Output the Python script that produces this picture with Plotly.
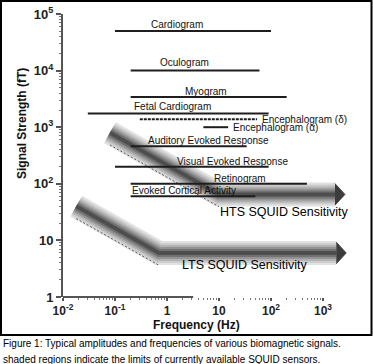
import numpy as np
import plotly.graph_objects as go

# ---------------- data ----------------
signals = ["Cardiogram", "Oculogram", "Myogram", "Fetal Cardiogram",
           "Encephalogram (δ)", "Encephalogram (α)", "Auditory Evoked Response",
           "Visual Evoked Response", "Retinogram", "Evoked Cortical Activity"]
f_low = [0.1, 0.2, 0.2, 0.03, 0.3, 5, 0.2, 0.1, 0.2, 0.2]          # Hz
f_high = [100, 60, 200, 90, 54, 15, 34, 90, 490, 50]                # Hz
amplitude = [5e4, 1e4, 3.4e3, 1.75e3, 1.38e3, 1.0e3, 460, 200, 100, 60]  # fT

hts_freq = [0.08, 10, 1700]     # Hz
hts_level = [800, 65, 65]       # fT
lts_freq = [0.018, 0.7, 1800]   # Hz
lts_level = [40, 6, 6]          # fT

x_tickvals = [0.01, 0.1, 1, 10, 100, 1000]
x_ticktext = ["10<sup>-2</sup>", "10<sup>-1</sup>", "1", "10", "10<sup>2</sup>", "10<sup>3</sup>"]
y_tickvals = [1, 10, 100, 1000, 1e4, 1e5]
y_ticktext = ["1", "10", "10<sup>2</sup>", "10<sup>3</sup>", "10<sup>4</sup>", "10<sup>5</sup>"]

# ---------------- layout geometry ----------------
W, H = 373, 364
L, R, T, B = 63, 348, 14, 297
PW, PH = R - L, B - T


def px(x):
    return (x - L) / PW


def py(y):
    return (B - y) / PH


FONT = "Liberation Sans, Arial, sans-serif"
LINE = "#1e1e1e"

fig = go.Figure()

# ---------------- sensitivity bands ----------------
layers = [(24, "#e2e2e2"), (20, "#cdcdcd"), (16, "#b2b2b2"),
          (12, "#939393"), (8, "#727272"), (4, "#4e4e4e")]
for freqs, levels in [(hts_freq, hts_level), (lts_freq, lts_level)]:
    for w, c in layers:
        fig.add_trace(go.Scatter(x=freqs, y=levels, mode="lines",
                                 line=dict(color=c, width=w),
                                 hoverinfo="skip", showlegend=False))
    # arrow head
    fe, le = freqs[-1], levels[-1]
    fig.add_trace(go.Scatter(x=[fe, fe * 1.55, fe], y=[le * 1.55, le, le / 1.55],
                             mode="lines", fill="toself", fillcolor="#3c3c3c",
                             line=dict(color="#3c3c3c", width=1),
                             hoverinfo="skip", showlegend=False))
    # dashed lower edge of the sloped part
    fig.add_trace(go.Scatter(x=freqs[:2], y=[v / 1.65 for v in levels[:2]], mode="lines",
                             line=dict(color="#555555", width=1, dash="2px,2px"),
                             hoverinfo="skip", showlegend=False))

# ---------------- signal ranges ----------------
label_x = [1.55, 2.2, 5.6, 1.25, None, None, 6.4, 18, 25, 2.1]
label_dy = [7, 8, 6, 7, 0, 0, 6, 5, 5, 6]
for i, name in enumerate(signals):
    dash = "3px,1px" if "δ" in name else "solid"
    fig.add_trace(go.Scatter(x=[f_low[i], f_high[i]], y=[amplitude[i]] * 2, mode="lines",
                             line=dict(color=LINE, width=2, dash=dash),
                             hoverinfo="skip", showlegend=False))
    if label_x[i] is None:
        fig.add_annotation(x=np.log10(f_high[i]), y=np.log10(amplitude[i]), text=name,
                           showarrow=False, xanchor="left", yanchor="middle", xshift=3,
                           font=dict(family=FONT, size=10, color="#111"))
    else:
        fig.add_annotation(x=np.log10(label_x[i]), y=np.log10(amplitude[i]), text=name,
                           showarrow=False, xanchor="center", yanchor="middle",
                           yshift=label_dy[i],
                           font=dict(family=FONT, size=10, color="#111"))

# band labels
fig.add_annotation(x=np.log10(178), y=np.log10(32), text="HTS SQUID Sensitivity",
                   showarrow=False, xanchor="center", yanchor="middle",
                   font=dict(family=FONT, size=12.5, color="#000"))
fig.add_annotation(x=np.log10(31), y=np.log10(3.7), text="LTS SQUID Sensitivity",
                   showarrow=False, xanchor="center", yanchor="middle",
                   font=dict(family=FONT, size=12.5, color="#000"))

# axis titles and caption
fig.add_annotation(xref="paper", yref="paper", x=px(22), y=py(124), text="<b>Signal Strength (fT)</b>",
                   textangle=-90, showarrow=False, xanchor="center", yanchor="middle",
                   font=dict(family=FONT, size=12, color="#111"))
fig.add_annotation(xref="paper", yref="paper", x=px(196), y=py(325), text="<b>Frequency (Hz)</b>",
                   showarrow=False, xanchor="center", yanchor="middle",
                   font=dict(family=FONT, size=12, color="#111"))
fig.add_annotation(xref="paper", yref="paper", x=px(1), y=py(343), xanchor="left", yanchor="middle",
                   text="Figure 1: Typical amplitudes and frequencies of various biomagnetic signals.",
                   showarrow=False, font=dict(family=FONT, size=10, color="#000"))
fig.add_annotation(xref="paper", yref="paper", x=px(1), y=py(359), xanchor="left", yanchor="middle",
                   text="shaded regions indicate the limits of currently available SQUID sensors.",
                   showarrow=False, font=dict(family=FONT, size=10, color="#000"))

# frame and x axis line
fig.add_shape(type="rect", xref="paper", yref="paper", x0=px(1), x1=px(371.5), y0=py(335), y1=py(1),
              line=dict(color="#000", width=2))
fig.add_shape(type="line", xref="x", yref="paper", x0=-2, x1=3.19, y0=0, y1=0,
              line=dict(color="#555", width=2))

minor_x = [k * 10.0 ** n for n in range(-2, 3) for k in range(2, 10)]
minor_y = [k * 10.0 ** n for n in range(0, 5) for k in range(2, 10)]

fig.update_xaxes(type="log", range=[-2, (R - L) / 52 - 2], showgrid=False, zeroline=False,
                 showline=False, automargin=False, tickmode="array", tickvals=x_tickvals, ticktext=x_ticktext,
                 ticks="outside", ticklen=3, tickwidth=1.5, tickcolor="#555",
                 tickfont=dict(family=FONT, size=12, color="#222", weight="bold"),
                 minor=dict(tickmode="array", tickvals=minor_x, ticks="outside", ticklen=2,
                            tickwidth=1, tickcolor="#777", showgrid=False))
fig.update_yaxes(type="log", range=[0, 5], showgrid=False, zeroline=False,
                 showline=True, linecolor="#555", linewidth=2, automargin=False,
                 tickmode="array", tickvals=y_tickvals, ticktext=y_ticktext,
                 ticks="outside", ticklen=5, tickwidth=1.5, tickcolor="#555",
                 tickfont=dict(family=FONT, size=13, color="#222", weight="bold"),
                 minor=dict(tickmode="array", tickvals=minor_y, ticks="outside", ticklen=2,
                            tickwidth=1, tickcolor="#777", showgrid=False))

fig.update_layout(width=W, height=H, margin=dict(l=L, r=W - R, t=T, b=H - B, autoexpand=False),
                  paper_bgcolor="white", plot_bgcolor="white", showlegend=False)

fig.write_html("out.html", config={"displayModeBar": False},
               post_script="document.body.style.margin='0';document.body.style.overflow='hidden';")
